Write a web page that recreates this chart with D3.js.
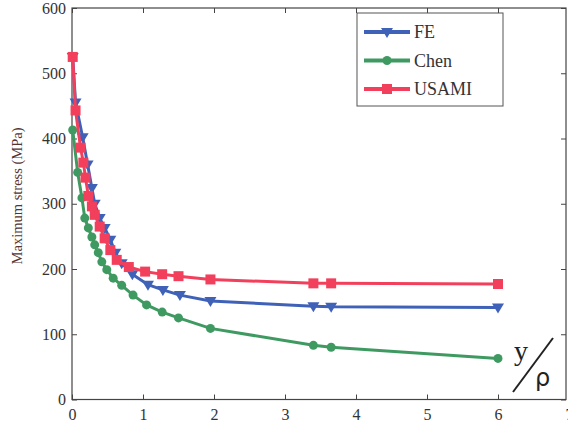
<!DOCTYPE html>
<meta charset="utf-8">
<script src="https://d3js.org/d3.v7.min.js"></script>
<style>
  body { margin: 0; background: #fff; }
</style>
<div id="chart"></div>
<script>
  // data
  const feX = [0.01, 0.05, 0.15, 0.22, 0.28, 0.32, 0.39, 0.46, 0.54, 0.61, 0.7, 0.85, 1.07, 1.28, 1.52, 1.95, 3.4, 3.65, 6];
  const feY = [525, 455, 402, 360, 324, 300, 278, 263, 245, 225, 209, 192, 176, 168, 160, 151, 143, 142, 141];
  const chenX = [0.01, 0.08, 0.14, 0.18, 0.23, 0.28, 0.32, 0.37, 0.42, 0.49, 0.58, 0.7, 0.86, 1.05, 1.27, 1.5, 1.95, 3.4, 3.65, 6];
  const chenY = [413, 348, 309, 278, 263, 249, 237, 225, 211, 199, 186, 175, 160, 145, 134, 125, 109, 83, 80, 63];
  const usamiX = [0.01, 0.05, 0.12, 0.16, 0.19, 0.23, 0.28, 0.32, 0.39, 0.46, 0.54, 0.63, 0.8, 1.03, 1.27, 1.5, 1.95, 3.4, 3.65, 6];
  const usamiY = [525, 443, 386, 363, 340, 312, 296, 283, 265, 247, 229, 214, 203, 196, 192, 189, 184, 178, 178, 177];
  const xTicks = [0, 1, 2, 3, 4, 5, 6, 7];
  const yTicks = [0, 100, 200, 300, 400, 500, 600];

  const width = 568, height = 426;
  const plotLeft = 72, plotRight = 566, plotTop = 8, plotBottom = 399.5;
  const serif = "'Liberation Serif', 'Times New Roman', 'DejaVu Serif', serif";

  const svg = d3.select("#chart").append("svg")
    .attr("width", width).attr("height", height);

  const x = d3.scaleLinear().domain([0, 7]).range([plotLeft, plotLeft + 71 * 7]);
  const y = d3.scaleLinear().domain([0, 600]).range([plotBottom, plotTop]);

  const axisColor = "#444";
  const tickLen = 5;

  // frame
  svg.append("rect")
    .attr("x", plotLeft).attr("y", plotTop)
    .attr("width", plotRight - plotLeft).attr("height", plotBottom - plotTop)
    .attr("fill", "none").attr("stroke", axisColor).attr("stroke-width", 1.2);

  // axes on all four sides, ticks inward
  const xAxis = svg.append("g").attr("transform", `translate(0,${plotBottom})`)
    .call(d3.axisBottom(x).tickValues(xTicks).tickSize(-tickLen).tickPadding(9).tickFormat(d3.format("d")));
  const topAxis = svg.append("g").attr("transform", `translate(0,${plotTop})`)
    .call(d3.axisTop(x).tickValues(xTicks).tickSize(-tickLen).tickFormat(""));
  const yAxis = svg.append("g").attr("transform", `translate(${plotLeft},0)`)
    .call(d3.axisLeft(y).tickValues(yTicks).tickSize(-tickLen).tickPadding(6));
  const rightAxis = svg.append("g").attr("transform", `translate(${plotRight},0)`)
    .call(d3.axisRight(y).tickValues(yTicks).tickSize(-tickLen).tickFormat(""));

  [xAxis, topAxis, yAxis, rightAxis].forEach(g => {
    g.select(".domain").remove();
    g.selectAll(".tick line").attr("stroke", axisColor);
    g.selectAll(".tick text")
      .attr("fill", "#333")
      .style("font-size", "16px")
      .style("font-family", serif);
  });

  // y label
  svg.append("text")
    .attr("transform", `translate(22,${y(312)}) rotate(-90)`)
    .attr("text-anchor", "middle")
    .style("font-size", "14.5px")
    .style("font-family", serif)
    .attr("fill", "#553333")
    .text("Maximum stress (MPa)");

  const series = [
    { name: "FE", xs: feX, ys: feY, color: "#3f62b8", shape: "tri" },
    { name: "Chen", xs: chenX, ys: chenY, color: "#3f9a62", shape: "circle" },
    { name: "USAMI", xs: usamiX, ys: usamiY, color: "#f2405c", shape: "square" }
  ];

  const line = d3.line().x(d => x(d[0])).y(d => y(d[1]));

  function drawMarker(g, shape, cx, cy, color) {
    if (shape === "circle") {
      g.append("circle").attr("cx", cx).attr("cy", cy).attr("r", 4.5).attr("fill", color);
    } else if (shape === "square") {
      g.append("rect").attr("x", cx - 5).attr("y", cy - 5).attr("width", 10).attr("height", 10).attr("fill", color);
    } else {
      g.append("path")
        .attr("d", `M${cx - 6},${cy - 4}L${cx + 6},${cy - 4}L${cx},${cy + 6}Z`)
        .attr("fill", color);
    }
  }

  series.forEach(s => {
    const pts = s.xs.map((v, i) => [v, s.ys[i]]);
    const g = svg.append("g");
    g.append("path").datum(pts)
      .attr("d", line)
      .attr("fill", "none")
      .attr("stroke", s.color)
      .attr("stroke-width", 3);
    pts.forEach(p => drawMarker(g, s.shape, x(p[0]), y(p[1]), s.color));
  });

  // legend
  const lg = svg.append("g");
  lg.append("rect")
    .attr("x", 357).attr("y", 13).attr("width", 146).attr("height", 93)
    .attr("fill", "#fff").attr("stroke", "#555").attr("stroke-width", 1);
  series.forEach((s, i) => {
    const ly = 32 + i * 28.5;
    lg.append("line")
      .attr("x1", 364).attr("x2", 410).attr("y1", ly).attr("y2", ly)
      .attr("stroke", s.color).attr("stroke-width", 4);
    drawMarker(lg, s.shape, 387, ly, s.color);
    lg.append("text")
      .attr("x", 414).attr("y", ly + 6)
      .style("font-size", "18px")
      .style("font-family", serif)
      .attr("fill", "#333")
      .text(s.name);
  });

  // y / rho annotation
  svg.append("text")
    .attr("x", 514).attr("y", 360)
    .style("font-size", "28px")
    .style("font-family", serif)
    .attr("fill", "#222")
    .text("y");
  svg.append("line")
    .attr("x1", 513).attr("y1", 392).attr("x2", 553).attr("y2", 338)
    .attr("stroke", "#222").attr("stroke-width", 2);
  svg.append("text")
    .attr("x", 535).attr("y", 386)
    .style("font-size", "24px")
    .style("font-family", "'DejaVu Sans', sans-serif")
    .attr("fill", "#222")
    .text("ρ");
</script>
